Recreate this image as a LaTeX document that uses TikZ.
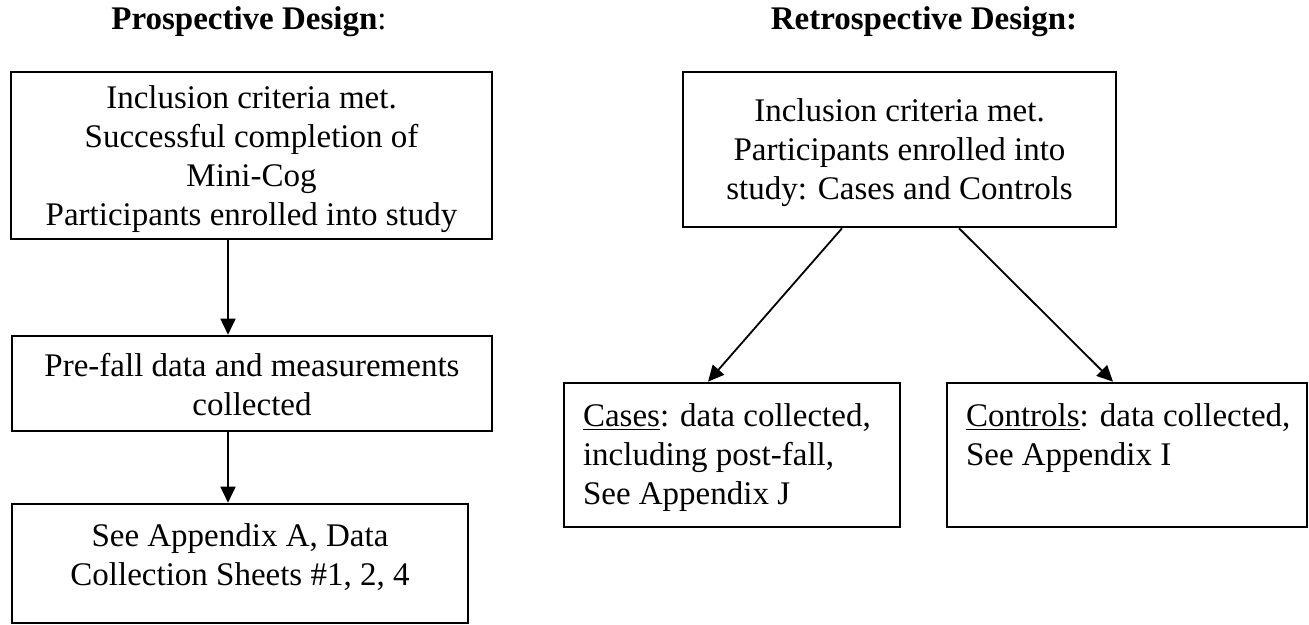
\documentclass[tikz,border=0pt]{standalone}
\usepackage{fontspec}
\setmainfont{Liberation Serif}
\usetikzlibrary{arrows.meta}

\tikzset{
  flowbox/.style={draw, line width=1.3pt, inner sep=0pt},
  flowarrow/.style={-{Triangle[length=8pt,width=7.5pt]}, line width=0.9pt},
  heading/.style={anchor=base, inner sep=0pt},
}

\begin{document}
\begin{tikzpicture}[x=0.5pt, y=-0.5pt, font=\fontsize{16.5}{19.5}\selectfont]
  \useasboundingbox (0,0) rectangle (1309,625);

  % prospective design
  \node[heading] (prohead) at (249,30) {\textbf{Prospective Design}:};
  \node[flowbox] (pinc) at (251.5,155.5) {
    \begin{minipage}[c][83.5pt][t]{240.5pt}
      \vspace*{4.5pt}\centering
      \strut Inclusion criteria met.\\
      Successful completion of\\
      Mini-Cog\\
      Participants enrolled into study
    \end{minipage}
  };
  \node[flowbox] (pdata) at (252,383.5) {
    \begin{minipage}[c][47.5pt][t]{240pt}
      \vspace*{6.5pt}\centering
      \strut Pre-fall data and measurements\\
      collected
    \end{minipage}
  };
  \node[flowbox] (psheets) at (240,563.5) {
    \begin{minipage}[c][59.5pt][t]{228pt}
      \vspace*{7.5pt}\centering
      \strut See Appendix A, Data\\
      Collection Sheets \#1, 2, 4
    \end{minipage}
  };

  % retrospective design
  \node[heading] (rethead) at (924,30) {\textbf{Retrospective Design:}};
  \node[flowbox] (rinc) at (899.5,149.5) {
    \begin{minipage}[c][77.5pt][t]{216.5pt}
      \vspace*{11pt}\centering
      \strut Inclusion criteria met.\\
      Participants enrolled into\\
      study: Cases and Controls
    \end{minipage}
  };
  \node[flowbox] (rcases) at (732,455) {
    \begin{minipage}[c][72pt][t]{168pt}
      \vspace*{8pt}\raggedright\leftskip=9.5pt
      \strut\underline{Cases}: data collected,\\
      including post-fall,\\
      See Appendix J
    \end{minipage}
  };
  \node[flowbox] (rcontrols) at (1127,455) {
    \begin{minipage}[c][72pt][t]{180pt}
      \vspace*{8pt}\raggedright\leftskip=9.5pt
      \strut\underline{Controls}: data collected,\\
      See Appendix I
    \end{minipage}
  };

  % arrows
  \draw[flowarrow] ([xshift=-11.75pt]pinc.south) -- ([xshift=-12pt]pdata.north);
  \draw[flowarrow] ([xshift=-12pt]pdata.south) -- ([xshift=-6pt]psheets.north);
  \draw[flowarrow] ([xshift=-28.75pt]rinc.south) -- ([xshift=-12pt]rcases.north);
  \draw[flowarrow] ([xshift=29.75pt]rinc.south) -- ([xshift=-7pt]rcontrols.north);
\end{tikzpicture}
\end{document}
